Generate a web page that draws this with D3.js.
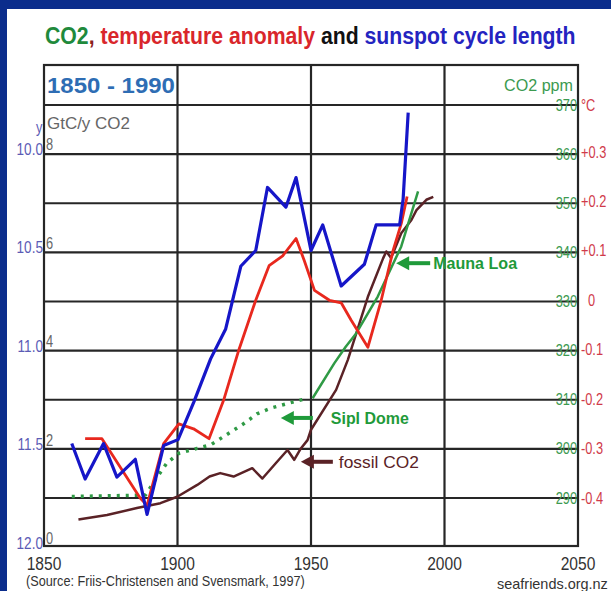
<!DOCTYPE html>
<html>
<head>
<meta charset="utf-8">
<script src="https://cdn.jsdelivr.net/npm/d3@7"></script>
<style>
  body { margin: 0; background: #fff; }
  text { font-family: "Liberation Sans", Arial, sans-serif; }
</style>
</head>
<body>
<div id="chart"></div>
<script>
// values
const sunspotYears = [1860.4, 1865.4, 1872.3, 1877.3, 1884.2, 1888.6, 1894.8, 1900.2, 1906.1, 1912.4, 1918, 1923.7, 1929.3, 1933.7, 1940.6, 1944.4, 1950, 1954.4, 1961.3, 1970, 1974.4, 1983.2, 1984.5, 1986.4]
const sunspotLength = [11.48, 11.66, 11.48, 11.65, 11.56, 11.84, 11.49, 11.46, 11.27, 11.05, 10.9, 10.58, 10.5, 10.18, 10.28, 10.13, 10.5, 10.37, 10.68, 10.57, 10.37, 10.37, 10.24, 9.8]

const tempYears = [1865.4, 1871.7, 1886, 1888.6, 1894.8, 1900.5, 1906, 1911.8, 1917.4, 1923, 1929.3, 1934.3, 1939.4, 1944.4, 1947.5, 1951.3, 1956.9, 1961.3, 1965, 1971.3, 1976.3, 1980.7, 1983.8, 1986]
const tempAnomaly = [-0.28, -0.28, -0.4, -0.415, -0.29, -0.25, -0.26, -0.28, -0.2, -0.1, 0, 0.07, 0.09, 0.125, 0.08, 0.02, 0, -0.005, -0.04, -0.095, 0, 0.1, 0.155, 0.21]

const sipleYears = [1860.4, 1888, 1892.4, 1896, 1900.5, 1907.4, 1912.4, 1925, 1930, 1935, 1943.7, 1948]
const sipleCO2 = [290.3, 290.6, 294.3, 297.1, 299.1, 300.1, 300.8, 305.2, 307.2, 308.3, 309.6, 310.2]

const maunaYears = [1950.6, 1958.7, 1963, 1966.9, 1975, 1983.8, 1990.1]
const maunaCO2 = [310.3, 317.4, 320.8, 323.5, 331, 341.2, 352.4]

const fossilYears = [1862.9, 1873.6, 1884.8, 1893.6, 1899.9, 1907.4, 1912, 1916, 1921, 1928, 1931.8, 1936.8, 1941.2, 1943.7, 1946.2, 1948.7, 1950, 1959.4, 1963.8, 1971.3, 1977, 1978.2, 1980, 1983.8, 1987.6, 1989.5, 1993.2, 1995.8]
const fossilGtC = [0.54, 0.63, 0.77, 0.87, 1.0, 1.24, 1.41, 1.48, 1.41, 1.58, 1.37, 1.68, 1.95, 1.75, 1.98, 2.15, 2.36, 3.17, 3.78, 5.06, 5.84, 5.98, 5.85, 6.35, 6.62, 6.82, 7.03, 7.09]

const yearTicks = [1850, 1900, 1950, 2000, 2050]
const co2Ticks = [290, 300, 310, 320, 330, 340, 350, 360, 370]
const tempTicks = [-0.4, -0.3, -0.2, -0.1, 0, 0.1, 0.2, 0.3]
const tempLabels = ['-0.4', '-0.3', '-0.2', '-0.1', '0', '+0.1', '+0.2', '+0.3']
const sunTicks = [10.0, 10.5, 11.0, 11.5, 12.0]
const gtcTicks = [0, 2, 4, 6, 8]

const width = 611
const height = 591
const plot = { top: 65, bottom: 546, left: 44, right: 578 }

const svg = d3
  .select('#chart')
  .append('svg')
  .attr('width', width)
  .attr('height', height)

// scales
const x = d3.scaleLinear().domain([1850, 2050]).range([plot.left, plot.right])
const yCO2 = d3.scaleLinear().domain([290, 370]).range([498, 105])
const yTemp = d3.scaleLinear().domain([-0.4, 0.3]).range([498, 152])
const ySun = d3.scaleLinear().domain([10, 12]).range([152, 546])
const yGtC = d3.scaleLinear().domain([0, 8]).range([546, 152])

// narrow text: a normal font squeezed sideways, or fitted to a width
function label(px, py, str, o) {
  const g = svg.append('g')
  const t = g
    .append('text')
    .attr('text-anchor', o.anchor || 'start')
    .attr('dy', o.dy || null)
    .attr('fill', o.color)
    .style('font-size', o.size + 'px')
    .style('font-weight', o.weight || null)
  if (str !== null) t.text(str)
  let sx = o.sx || 0.8
  if (o.fit) sx = o.fit / t.node().getComputedTextLength()
  g.attr('transform', `translate(${px},${py}) scale(${sx},1)`)
  return t
}

// blue frame
svg.append('rect').attr('x', 0).attr('y', 0).attr('width', width).attr('height', 9).attr('fill', '#0b2d8c')
svg.append('rect').attr('x', 0).attr('y', 0).attr('width', 7).attr('height', height).attr('fill', '#0b2d8c')

// title, coloured in parts
const titleG = svg.append('g')
const title = titleG
  .append('text')
  .style('font-size', '24px')
  .style('font-weight', 'bold')
const titleParts = [
  ['CO2', '#1f8a3c'],
  [', ', '#8a2020'],
  ['temperature anomaly', '#d9262b'],
  [' and ', '#111'],
  ['sunspot cycle length', '#2424c0']
]
titleParts.forEach(p => title.append('tspan').attr('fill', p[1]).text(p[0]))
titleG.attr('transform', `translate(45,44) scale(${531 / title.node().getComputedTextLength()},1)`)

// grid
const grid = svg.append('g').attr('stroke', '#262626').attr('stroke-width', 2.2)
grid
  .selectAll('.hgrid')
  .data(co2Ticks)
  .enter()
  .append('line')
  .attr('x1', plot.left)
  .attr('x2', plot.right)
  .attr('y1', d => yCO2(d))
  .attr('y2', d => yCO2(d))
grid
  .selectAll('.vgrid')
  .data(yearTicks.slice(1, -1))
  .enter()
  .append('line')
  .attr('x1', d => x(d))
  .attr('x2', d => x(d))
  .attr('y1', plot.top)
  .attr('y2', plot.bottom)
svg
  .append('rect')
  .attr('x', plot.left)
  .attr('y', plot.top)
  .attr('width', plot.right - plot.left)
  .attr('height', plot.bottom - plot.top)
  .attr('fill', 'none')
  .attr('stroke', '#262626')
  .attr('stroke-width', 2.2)

label(47, 93, '1850 - 1990', { color: '#2e6db4', size: 22, weight: 'bold', fit: 128 })

// left axes
sunTicks.forEach(d =>
  label(43, ySun(d) - 3, d.toFixed(1), { anchor: 'end', dy: '0.33em', color: '#5b5bb5', size: 17 })
)
label(36, 133, 'y', { color: '#5b5bb5', size: 16 })

gtcTicks.forEach(d => label(46, yGtC(d) - 2, String(d), { color: '#666', size: 16 }))
label(47, 129, 'GtC/y CO2', { color: '#666', size: 16, fit: 83 })

// right axes
co2Ticks.forEach(d =>
  label(577, yCO2(d), String(d), { anchor: 'end', dy: '0.35em', color: '#3c9a50', size: 16 })
)
label(573, 91, 'CO2 ppm', { anchor: 'end', color: '#3c9a50', size: 16, fit: 69 })

tempTicks.forEach((d, i) =>
  label(d === 0 ? 588 : 581, yTemp(d), tempLabels[i], { dy: '0.35em', color: '#d03a4a', size: 16 })
)
label(581, yCO2(370), '°C', { dy: '0.35em', color: '#d03a4a', size: 16 })

// x labels
yearTicks.forEach(d =>
  label(x(d), 570, String(d), { anchor: 'middle', color: '#333', size: 19, sx: 0.82 })
)
label(26, 586, '(Source: Friis-Christensen and Svensmark, 1997)', { color: '#333', size: 14, fit: 279 })
label(497, 589, 'seafriends.org.nz', { color: '#333', size: 14, fit: 111 })

// lines
function drawLine(xs, ys, yScale, color, w, dash) {
  const pts = xs.map((d, i) => [d, ys[i]])
  const line = d3
    .line()
    .x(d => x(d[0]))
    .y(d => yScale(d[1]))
  svg
    .append('path')
    .datum(pts)
    .attr('d', line)
    .attr('fill', 'none')
    .attr('stroke', color)
    .attr('stroke-width', w)
    .attr('stroke-linejoin', 'round')
    .attr('stroke-dasharray', dash || null)
}

drawLine(sipleYears, sipleCO2, yCO2, '#2f9a45', 3.5, '3,6')
drawLine(fossilYears, fossilGtC, yGtC, '#5a2226', 2.5)
drawLine(maunaYears, maunaCO2, yCO2, '#2f9a45', 2.5)
drawLine(tempYears, tempAnomaly, yTemp, '#e8281e', 2.8)
drawLine(sunspotYears, sunspotLength, ySun, '#1616c8', 3.2)

// annotations with arrows
function arrow(tipX, tipY, len, color) {
  svg
    .append('line')
    .attr('x1', tipX + 8)
    .attr('x2', tipX + len)
    .attr('y1', tipY)
    .attr('y2', tipY)
    .attr('stroke', color)
    .attr('stroke-width', 4)
  svg
    .append('path')
    .attr('d', `M${tipX},${tipY} L${tipX + 13},${tipY - 7} L${tipX + 13},${tipY + 7} Z`)
    .attr('fill', color)
}

arrow(x(1981.9), yCO2(337.8), 34, '#1f9a3a')
label(x(1981.9) + 37, yCO2(337.8), 'Mauna Loa', { dy: '0.35em', color: '#1f9a3a', size: 17, weight: 'bold', fit: 84 })

arrow(x(1938.7), yCO2(306.3), 32, '#1f9a3a')
label(x(1938.7) + 50, yCO2(306.3), 'Sipl Dome', { dy: '0.35em', color: '#1f9a3a', size: 17, weight: 'bold', fit: 78 })

arrow(x(1946.2), yGtC(1.71), 32, '#5a2226')
label(x(1946.2) + 38, yGtC(1.71), 'fossil CO2', { dy: '0.35em', color: '#5a2226', size: 17, fit: 80 })
</script>
</body>
</html>
